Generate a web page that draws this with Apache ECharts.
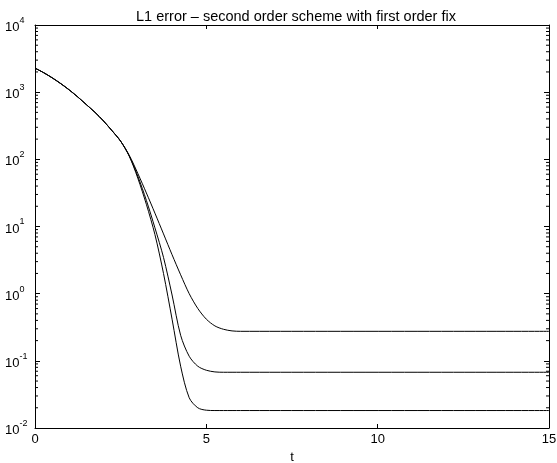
<!DOCTYPE html>
<html>
<head>
<meta charset="utf-8">
<script src="https://cdn.jsdelivr.net/npm/echarts@6/dist/echarts.min.js"></script>
<style>
html,body{margin:0;padding:0;background:#fff;overflow:hidden;}
#c{width:557px;height:463px;}
</style>
</head>
<body>
<div id="c"></div>
<script>
// time samples (t)
var times = [0, 0.25, 0.5, 0.75, 1.0, 1.25, 1.5, 1.75, 2.0, 2.25, 2.5, 2.75,
  3.0, 3.25, 3.5, 3.75, 4.0, 4.25, 4.5, 4.75, 5.0, 5.25, 5.5, 5.75, 6.0, 15];
// L1 error curves
var errTop = [2280, 1954, 1637, 1343, 1079, 847, 652, 501, 372, 266, 186, 115,
  61.7, 31.6, 15.8, 7.76, 3.80, 1.91, 1.00, 0.603, 0.417, 0.331, 0.295, 0.279, 0.275, 0.275];
var errMid = [2280, 1954, 1637, 1343, 1079, 847, 652, 501, 372, 266, 186, 112,
  56.2, 24.5, 9.55, 3.47, 0.955, 0.240, 0.117, 0.0832, 0.0724, 0.0684, 0.0676, 0.0676, 0.0676, 0.0676];
var errBot = [2280, 1954, 1637, 1343, 1079, 847, 652, 501, 372, 266, 186, 112,
  52.5, 21.4, 7.59, 2.00, 0.417, 0.0832, 0.0282, 0.0200, 0.0184, 0.0182, 0.0182, 0.0182, 0.0182, 0.0182];
// axis ticks
var xTicks = [0, 5, 10, 15];
var yMin = 0.01, yMax = 10000;
var minorTickValues = [];
[0.01, 0.1, 1, 10, 100, 1000].forEach(function (d) {
  [2, 3, 4, 5, 6, 7, 8, 9].forEach(function (m) { minorTickValues.push([0, +(m * d).toPrecision(3)]); });
});

function pairs(ys) { return times.map(function (t, i) { return [t, ys[i]]; }); }

var FONT = '"Liberation Sans", Arial, Helvetica, sans-serif';
var chart = echarts.init(document.getElementById('c'), null, {renderer: 'canvas'});
function yLabel(v) {
  var e = Math.round(Math.log(v) / Math.LN10);
  return '{b|10}{s|' + e + '}';
}
var lineStyle = {color: '#000', width: 1};
chart.setOption({
  animation: false,
  backgroundColor: '#fff',
  title: {
    text: 'L1 error – second order scheme with first order fix',
    left: 291, top: 4, textAlign: 'center',
    textStyle: {fontFamily: FONT, fontSize: 14.5, fontWeight: 'normal', color: '#000'}
  },
  grid: {left: 35, right: 8, top: 25, bottom: 35, containLabel: false, outerBoundsMode: 'none'},
  xAxis: [{
    type: 'value', min: 0, max: 15, interval: 5, position: 'bottom',
    name: 't', nameLocation: 'middle', nameGap: 23,
    nameTextStyle: {fontFamily: FONT, fontSize: 13, color: '#000'},
    axisLine: {show: true, onZero: false, lineStyle: {color: '#000', width: 1}},
    axisTick: {show: true, inside: true, length: 4, lineStyle: {color: '#000'}},
    axisLabel: {show: true, margin: 5, fontFamily: FONT, fontSize: 13, color: '#000'},
    splitLine: {show: false}
  }, {
    type: 'value', min: 0, max: 15, interval: 5, position: 'top',
    axisLine: {show: true, onZero: false, lineStyle: {color: '#000', width: 1}},
    axisTick: {show: true, inside: true, length: 4, lineStyle: {color: '#000'}},
    axisLabel: {show: false}, splitLine: {show: false}
  }],
  yAxis: [{
    type: 'log', logBase: 10, min: yMin, max: yMax, position: 'left',
    axisLine: {show: true, onZero: false, lineStyle: {color: '#000', width: 1}},
    axisTick: {show: true, inside: true, length: 5, lineStyle: {color: '#000'}},
    axisLabel: {
      show: true, margin: 30, align: 'left', formatter: yLabel,
      rich: {
        b: {fontFamily: FONT, fontSize: 13, color: '#000', verticalAlign: 'bottom', lineHeight: 18},
        s: {fontFamily: FONT, fontSize: 9, color: '#000', verticalAlign: 'top', lineHeight: 18}
      }
    },
    splitLine: {show: false}
  }, {
    type: 'log', logBase: 10, min: yMin, max: yMax, position: 'right',
    axisLine: {show: true, onZero: false, lineStyle: {color: '#000', width: 1}},
    axisTick: {show: true, inside: true, length: 5, lineStyle: {color: '#000'}},
    axisLabel: {show: false}, splitLine: {show: false}
  }],
  series: [{
    type: 'line', data: pairs(errTop), showSymbol: false, smooth: 0.3,
    lineStyle: lineStyle, silent: true
  }, {
    type: 'line', data: pairs(errMid), showSymbol: false, smooth: 0.3,
    lineStyle: lineStyle, silent: true
  }, {
    type: 'line', data: pairs(errBot), showSymbol: false, smooth: 0.3,
    lineStyle: lineStyle, silent: true
  }, {
    type: 'custom', silent: true, data: minorTickValues,
    renderItem: function (params, api) {
      var v = api.value(1);
      var pL = api.coord([0, v]);
      var pR = api.coord([15, v]);
      return {
        type: 'group',
        children: [
          {type: 'line', shape: {x1: pL[0], y1: pL[1], x2: pL[0] + 3, y2: pL[1]}, style: {stroke: '#000', lineWidth: 1}},
          {type: 'line', shape: {x1: pR[0], y1: pR[1], x2: pR[0] - 3, y2: pR[1]}, style: {stroke: '#000', lineWidth: 1}}
        ]
      };
    }
  }]
});
</script>
</body>
</html>
